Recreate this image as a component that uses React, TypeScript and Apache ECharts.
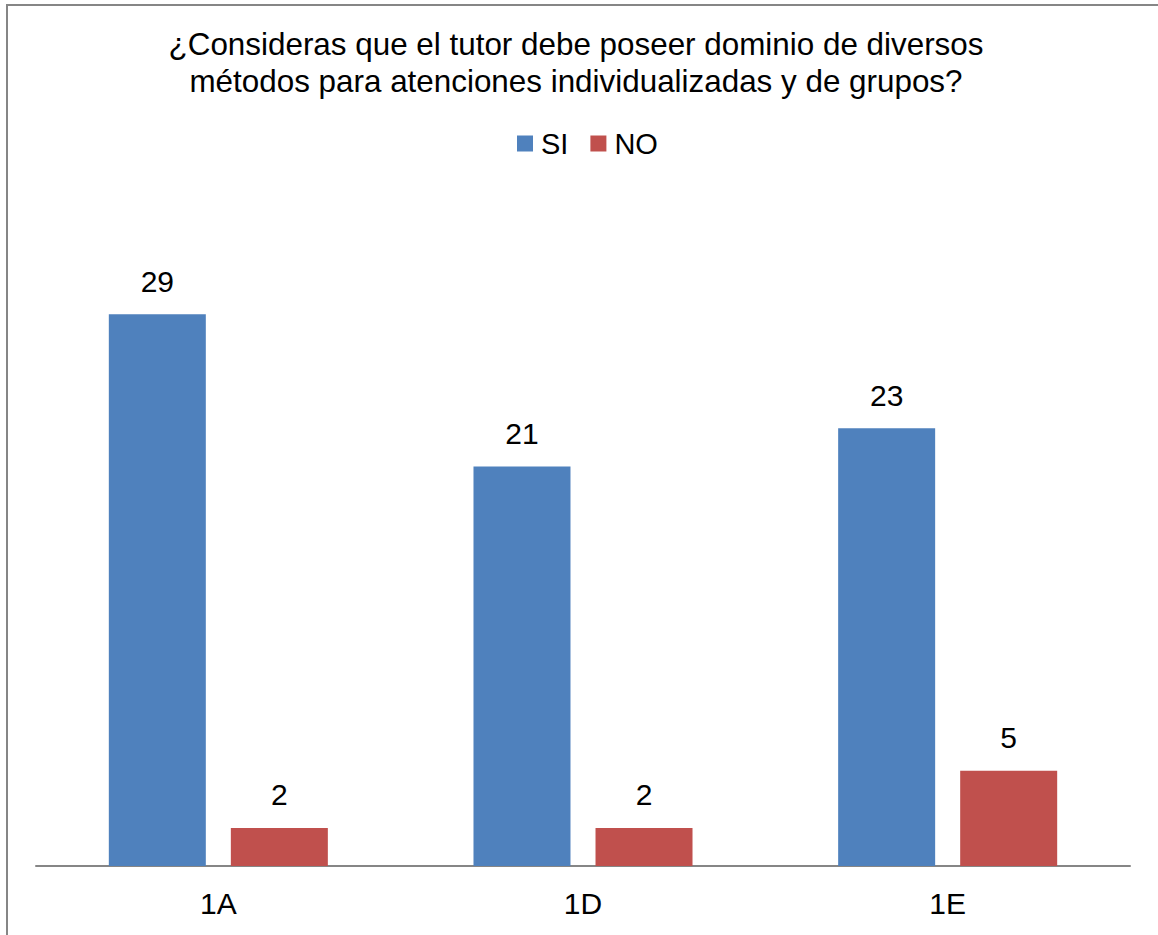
import React, { useEffect, useRef } from "react";
import * as echarts from "echarts";

const categories = ["1A", "1D", "1E"];
const siValues = [29, 21, 23];
const noValues = [2, 2, 5];
const seriesNames = ["SI", "NO"];
const titleText =
  "¿Consideras que el tutor debe poseer dominio de diversos\nmétodos para atenciones individualizadas y de grupos?";

const FONT = "'Liberation Sans', Arial, sans-serif";

export default function App() {
  const ref = useRef<HTMLDivElement>(null);
  useEffect(() => {
    if (!ref.current) return;
    const chart = echarts.init(ref.current, null, { renderer: "svg" });
    chart.setOption({
      animation: false,
      backgroundColor: "#ffffff",
      textStyle: { fontFamily: FONT, color: "#000" },
      title: {
        text: titleText,
        left: 571,
        top: 21,
        textAlign: "center",
        textStyle: {
          fontFamily: FONT,
          fontSize: 31.4,
          fontWeight: "normal",
          color: "#000",
          lineHeight: 37,
        },
      },
      legend: {
        data: seriesNames,
        top: 124,
        left: 512,
        itemWidth: 16,
        itemHeight: 16,
        itemGap: 22,
        icon: "rect",
        textStyle: { fontFamily: FONT, fontSize: 29, color: "#000", padding: [0, 0, 0, 3] },
      },
      graphic: [
        {
          type: "rect",
          shape: { x: 7, y: 5, width: 1300, height: 1100 },
          style: { fill: "none", stroke: "#868686", lineWidth: 2 },
          silent: true,
        },
      ],
      grid: { left: 36, right: 28, top: 200, bottom: 69, containLabel: false },
      xAxis: {
        type: "category",
        data: categories,
        axisLine: { show: true, lineStyle: { color: "#868686", width: 2 } },
        axisTick: { show: false },
        axisLabel: { fontFamily: FONT, fontSize: 30, color: "#000", margin: 22 },
      },
      yAxis: {
        type: "value",
        min: 0,
        max: 35,
        show: false,
        splitLine: { show: false },
      },
      series: [
        {
          name: seriesNames[0],
          type: "bar",
          data: siValues,
          barWidth: 97,
          barGap: "25.8%",
          itemStyle: { color: "#4F81BD" },
          label: {
            show: true,
            position: "top",
            distance: 18,
            fontFamily: FONT,
            fontSize: 30,
            color: "#000",
          },
        },
        {
          name: seriesNames[1],
          type: "bar",
          data: noValues,
          barWidth: 97,
          barGap: "25.8%",
          itemStyle: { color: "#C0504D" },
          label: {
            show: true,
            position: "top",
            distance: 18,
            fontFamily: FONT,
            fontSize: 30,
            color: "#000",
          },
        },
      ],
    });
    return () => chart.dispose();
  }, []);
  return (
    <div
      ref={ref}
      style={{ position: "fixed", left: 0, top: 0, width: 1158, height: 935 }}
    />
  );
}
